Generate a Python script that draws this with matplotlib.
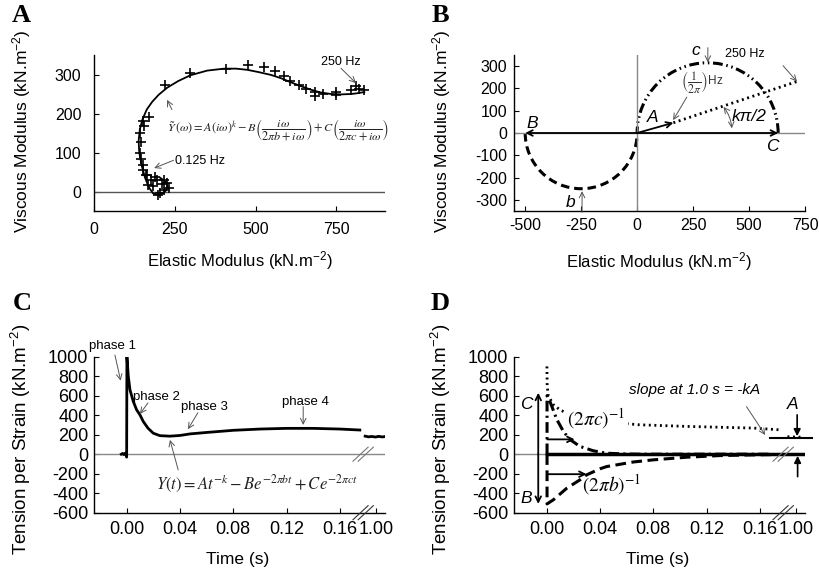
import numpy as np
import matplotlib
matplotlib.use("Agg")
import matplotlib.pyplot as plt
from matplotlib.patches import Arc

plt.rcParams['font.family'] = 'Liberation Sans'
plt.rcParams['mathtext.fontset'] = 'custom'
plt.rcParams['mathtext.rm'] = 'Liberation Sans'
plt.rcParams['mathtext.it'] = 'Liberation Sans:italic'
plt.rcParams['mathtext.bf'] = 'Liberation Sans:bold'
plt.rcParams['axes.unicode_minus'] = False

# --------------------------
# DATA
# --------------------------
# A: measured moduli (crosses) and fitted curve, kN/m2
a_meas_x = [210, 225, 233, 218, 205, 199, 184, 167, 195, 215, 175, 189, 164, 161,
            153, 151, 144, 141, 146, 143, 151, 155, 171,
            220, 298, 407, 476, 526, 560, 587, 607, 635, 656, 684, 685, 708,
            750, 750, 795, 810, 821, 836]
a_meas_y = [20, 22, 8, 4, -4, -8, 13, 17, 30, 30, 30, 37, 43, 43,
            56, 68, 83, 98, 126, 150, 180, 168, 191,
            273, 304, 315, 324, 318, 308, 295, 284, 272, 264, 256, 245, 251,
            255, 247, 260, 270, 262, 259]
a_fit_x = [205, 222, 228, 220, 200, 183, 170, 158, 148, 140, 138, 142, 150, 163,
           180, 200, 226, 260, 298, 350, 402, 440, 474, 510, 547, 580, 609, 640,
           671, 700, 733, 765, 795, 815, 836]
a_fit_y = [35, 25, 12, 0, -10, -5, 10, 35, 65, 100, 130, 160, 185, 210,
           230, 248, 266, 283, 298, 310, 315, 315, 312, 306, 299, 290, 280, 270,
           261, 254, 250, 249, 250, 252, 255]

# B: model components in the complex plane
b_centre, b_radius = -250, 250       # B semicircle (lower)
c_centre, c_radius = 315, 315        # C semicircle (upper)
a_vec = (162, 46)                    # A at 1/(2pi) Hz
a_250 = (714, 231)                   # A(i w)^k at 250 Hz

# C: tension per strain trace (s, kN/m2)
c_t = [-0.004, -0.003, -0.002, -0.001, -0.0003, 0.0, 0.0002, 0.00125, 0.0025,
       0.005, 0.0075, 0.01, 0.0125, 0.016, 0.02, 0.025, 0.0325, 0.04, 0.0475,
       0.06, 0.08, 0.10, 0.12, 0.14, 0.16, 0.175]
c_y = [0, 8, -5, 10, 0, -30, 1000, 797, 660, 540, 455, 403, 335, 267, 215,
       190, 185, 192, 208, 223, 245, 258, 265, 265, 258, 248]
c_late_t = [0.95, 0.965, 0.98, 0.995, 1.01, 1.025, 1.037]
c_late_y = [185, 178, 182, 176, 183, 177, 181]

# D: model components
d_pow_t = [0.0002, 0.0004, 0.00125, 0.005, 0.01, 0.015, 0.02, 0.035, 0.069,
           0.105, 0.155, 0.175]
d_pow_y = [900, 700, 600, 508, 455, 422, 395, 345, 302, 285, 268, 250]
d_pow_late_t = [0.96, 0.98, 1.0, 1.02]
d_pow_late_y = [179, 177, 176, 175]
d_c_t = [0.0003, 0.0003, 0.0025, 0.0075, 0.0125, 0.0175, 0.025, 0.035, 0.045,
         0.06, 0.07, 0.17]
d_c_y = [0, 600, 540, 360, 235, 150, 80, 35, 10, 2, 0, 0]
d_b_t = [0.0003, 0.0003, 0.005, 0.015, 0.025, 0.03, 0.04, 0.045, 0.065, 0.08,
         0.105, 0.13, 0.155, 0.175]
d_b_y = [0, -510, -468, -350, -263, -212, -150, -127, -80, -58, -31, -14, -7, -3]
d_a_level = 164

time_ticks = [0.0, 0.04, 0.08, 0.12, 0.16, 1.0]
time_labels = ['0.00', '0.04', '0.08', '0.12', '0.16', '1.00']

# --------------------------
# LAYOUT HELPERS
# --------------------------
W, H = 820, 572
fig = plt.figure(figsize=(W / 100, H / 100), dpi=100)


def add_ax(l, t, r, b):
    ax = fig.add_axes([l / W, 1 - b / H, (r - l) / W, (b - t) / H])
    for s in ('top', 'right'):
        ax.spines[s].set_visible(False)
    for s in ('left', 'bottom'):
        ax.spines[s].set_linewidth(1.0)
    return ax


def style_ticks(ax, size, padx, pady):
    ax.tick_params(direction='in', length=3.5, width=0.8, labelsize=size)
    ax.tick_params(axis='x', pad=padx)
    ax.tick_params(axis='y', pad=pady)


# time axis: linear up to 0.176 s, then a short gap, then the 1 s segment
T_IN = [-10, 0.176, 0.95, 10]
T_OUT = [-10, 0.176, 0.179, 0.179 + 9.05 * 0.17]


def fwd(t):
    return np.interp(t, T_IN, T_OUT)


def inv(x):
    return np.interp(x, T_OUT, T_IN)


def draw_break(ax, yfrac, color):
    xb = (0.1775 + 0.0245) / (0.1939 + 0.0245)
    for off in (-0.009, 0.009):
        ax.plot([xb - 0.026 + off, xb + 0.026 + off], [yfrac - 0.045, yfrac + 0.045],
                transform=ax.transAxes, color=color, lw=0.8, clip_on=False, zorder=5)


def time_axis(ax):
    ax.set_xscale('function', functions=(fwd, inv))
    ax.set_xlim(-0.0245, 1.0376)
    ax.set_ylim(-600, 1000)
    ax.set_xticks(time_ticks)
    ax.set_xticklabels(time_labels)
    ax.xaxis.set_minor_locator(matplotlib.ticker.NullLocator())
    ax.set_yticks(range(-600, 1001, 200))
    style_ticks(ax, 13, 6, 4)
    ax.set_xlabel('Time (s)', fontsize=12.5)
    ax.set_ylabel('Tension per Strain (kN.m$^{-2}$)', fontsize=13.5)
    ax.xaxis.set_label_coords(0.495, -0.25)
    ax.yaxis.set_label_coords(-0.21, 0.47)
    draw_break(ax, 0.375, '#777')
    draw_break(ax, 0.0, '#333')


thin = dict(arrowstyle='->', color='#555', lw=0.7, shrinkA=0, shrinkB=0)
blk = dict(arrowstyle='->', color='black', lw=1.3, shrinkA=0, shrinkB=0)

# --------------------------
# PANEL A
# --------------------------
axA = add_ax(94, 55, 385, 211)
axA.axhline(0, color='#555', lw=1.0)
axA.plot(a_fit_x, a_fit_y, color='black', lw=1.3)
axA.plot(a_meas_x, a_meas_y, '+', color='black', ms=7.5, mew=1.2)
axA.set_xlim(0, 900)
axA.set_ylim(-50, 350)
axA.set_xticks([0, 250, 500, 750])
axA.set_yticks([0, 100, 200, 300])
style_ticks(axA, 11.5, 8, 9)
axA.set_xlabel('Elastic Modulus (kN.m$^{-2}$)', fontsize=12)
axA.set_ylabel('Viscous Modulus (kN.m$^{-2}$)', fontsize=12.5)
axA.xaxis.set_label_coords(0.5, -0.245)
axA.yaxis.set_label_coords(-0.21, 0.51)
axA.annotate('', xy=(810, 278), xytext=(764, 316), arrowprops=thin)
axA.text(762, 331, '250 Hz', fontsize=9, ha='center', va='center')
axA.annotate('', xy=(186, 60), xytext=(246, 80), arrowprops=thin)
axA.text(327, 79, '0.125 Hz', fontsize=9, ha='center', va='center')
axA.annotate('', xy=(226, 235), xytext=(241, 210), arrowprops=thin)
axA.text(570, 160,
         r'$\tilde{Y}\,(\omega) = A(i\omega)^k - B\left(\dfrac{i\omega}{2\pi b+i\omega}\right)'
         r'+C\left(\dfrac{i\omega}{2\pi c+i\omega}\right)$',
         math_fontfamily='stix', fontsize=8.8, ha='center', va='center', color='#222')

# --------------------------
# PANEL B
# --------------------------
axB = add_ax(514, 55, 805, 211)
axB.axhline(0, color='#888', lw=1.0)
axB.axvline(0, color='#888', lw=1.0)
axB.add_patch(Arc((b_centre, 0), 2 * b_radius, 2 * b_radius, theta1=180, theta2=360,
                  lw=2.2, ls=(0, (2.8, 1.6)), color='black'))
axB.add_patch(Arc((c_centre, 0), 2 * c_radius, 2 * c_radius, theta1=0, theta2=180,
                  lw=2.2, ls=(0, (3.2, 1.2, 0.5, 1.2, 0.5, 1.2)), color='black'))
axB.plot([a_vec[0], a_250[0]], [a_vec[1], a_250[1]], color='black', lw=2.0,
         ls=(0, (0.7, 1.3)))
axB.annotate('', xy=(b_centre - b_radius, 0), xytext=(0, 0), arrowprops=blk)
axB.annotate('', xy=(c_centre + c_radius, 0), xytext=(0, 0), arrowprops=blk)
axB.annotate('', xy=a_vec, xytext=(0, 0), arrowprops=blk)
axB.set_xlim(-550, 750)
axB.set_ylim(-350, 350)
axB.set_xticks([-500, -250, 0, 250, 500, 750])
axB.set_yticks(range(-300, 301, 100))
style_ticks(axB, 11.5, 5, 5)
axB.set_xlabel('Elastic Modulus (kN.m$^{-2}$)', fontsize=12)
axB.set_ylabel('Viscous Modulus (kN.m$^{-2}$)', fontsize=12.5)
axB.xaxis.set_label_coords(0.498, -0.25)
axB.yaxis.set_label_coords(-0.21, 0.51)
it = dict(fontsize=12.5, fontstyle='italic', ha='center', va='center')
axB.text(-470, 43, 'B', **it)
axB.text(602, -61, 'C', **it)
axB.text(71, 71, 'A', **it)
axB.text(264, 369, 'c', **it)
axB.text(-299, -311, 'b', **it)
axB.text(501, 72, 'k\u03c0/2', **it)
axB.annotate('', xy=(316, 317), xytext=(316, 383), arrowprops=thin, annotation_clip=False)
axB.annotate('', xy=(-246, -261), xytext=(-246, -356), arrowprops=thin,
             annotation_clip=False)
axB.annotate('', xy=a_250, xytext=(652, 302), arrowprops=thin)
axB.text(483, 356, '250 Hz', fontsize=9, ha='center', va='center')
axB.annotate('', xy=(161, 58), xytext=(222, 161), arrowprops=thin)
axB.text(289, 227, r'$\left(\dfrac{1}{2\pi}\right)$Hz', math_fontfamily='stix',
         fontsize=8.5, ha='center', va='center', color='#333')
axB.annotate('', xy=(423, 21), xytext=(386, 117),
             arrowprops=dict(arrowstyle='<->', color='#555', lw=0.7, shrinkA=0,
                             shrinkB=0, connectionstyle='arc3,rad=-0.15'))

# --------------------------
# PANEL C
# --------------------------
axC = add_ax(94, 356.7, 385, 512.7)
axC.axhline(0, color='#888', lw=1.0)
axC.plot(c_t, c_y, color='black', lw=2.0)
axC.plot(c_late_t, c_late_y, color='black', lw=2.0)
time_axis(axC)
for label, pos, tail, tip in [('phase 1', (-0.0103, 1112), (-0.0088, 1017), (-0.0045, 754)),
                              ('phase 2', (0.0225, 584), (0.016, 526), (0.01, 413)),
                              ('phase 3', (0.0587, 488), (0.0535, 426), (0.046, 256)),
                              ('phase 4', (0.134, 539), (0.1325, 488), (0.1325, 300))]:
    axC.annotate('', xy=tip, xytext=tail, arrowprops=thin, annotation_clip=False)
    axC.text(pos[0], pos[1], label, fontsize=9.5, ha='center', va='center')
axC.annotate('', xy=(0.0325, 147), xytext=(0.0387, -161), arrowprops=thin)
axC.text(0.0975, -297, r'$Y(t) = At^{-k} - Be^{-2\pi bt} + Ce^{-2\pi ct}$',
         math_fontfamily='stix', fontsize=12, ha='center', va='center', color='#222')

# --------------------------
# PANEL D
# --------------------------
axD = add_ax(514, 356.7, 805, 512.7)
axD.axhline(0, color='#888', lw=1.0)
axD.plot([0.0, 1.037], [0, 0], color='black', lw=2.5)
axD.plot(d_pow_t, d_pow_y, color='black', lw=2.0, ls=(0, (0.7, 1.3)))
axD.plot(d_pow_late_t, d_pow_late_y, color='black', lw=2.0, ls=(0, (0.7, 1.3)))
axD.plot(d_c_t, d_c_y, color='black', lw=2.2, ls=(0, (3.5, 1.4, 0.7, 1.4)))
axD.plot(d_b_t, d_b_y, color='black', lw=2.2, ls=(0, (3.5, 1.8)))
axD.plot([0.168, 1.07], [d_a_level, d_a_level], color='black', lw=1.5, clip_on=False)
time_axis(axD)
axD.annotate('', xy=(-0.0063, 630), xytext=(-0.0063, 0), arrowprops=blk)
axD.annotate('', xy=(-0.0063, -510), xytext=(-0.0063, 0), arrowprops=blk)
axD.text(-0.015, 508, 'C', **it)
axD.text(-0.015, -450, 'B', **it)
axD.annotate('', xy=(0.021, 152), xytext=(0.0005, 152), arrowprops=blk)
axD.annotate('', xy=(0.030, -205), xytext=(0.0005, -205), arrowprops=blk)
axD.text(0.0375, 369, r'$(2\pi c)^{-1}$', math_fontfamily='stix', fontsize=14,
         ha='center', va='center', bbox=dict(fc='white', ec='none', pad=1.5))
axD.text(0.049, -315, r'$(2\pi b)^{-1}$', math_fontfamily='stix', fontsize=14,
         ha='center', va='center')
axD.text(0.111, 659, 'slope at 1.0 s = -kA', fontsize=11, fontstyle='italic',
         ha='center', va='center')
axD.annotate('', xy=(0.164, 197), xytext=(0.15, 488), arrowprops=thin)
axD.text(0.985, 505, 'A', **it)
axD.annotate('', xy=(1.003, 185), xytext=(1.003, 403),
             arrowprops=dict(arrowstyle='-|>', color='black', lw=1.2, shrinkA=0, shrinkB=0))
axD.annotate('', xy=(1.005, -17), xytext=(1.005, -230),
             arrowprops=dict(arrowstyle='-|>', color='black', lw=1.2, shrinkA=0, shrinkB=0))

# --------------------------
# PANEL LETTERS
# --------------------------
for letter, x, y in [('A', 21, 16), ('B', 440, 16), ('C', 22, 303), ('D', 440, 303)]:
    fig.text(x / W, 1 - y / H, letter, family='Liberation Serif', fontweight='bold',
             fontsize=19, ha='center', va='center')

fig.savefig('out.png', dpi=100)
